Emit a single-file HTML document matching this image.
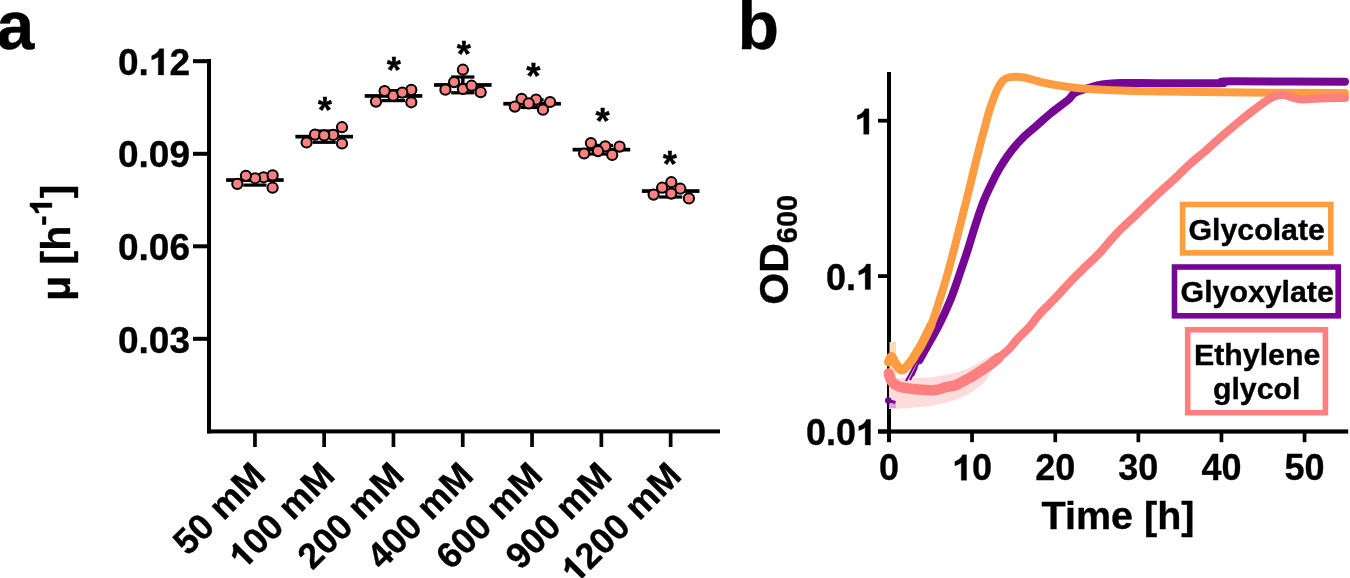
<!DOCTYPE html>
<html><head><meta charset="utf-8"><style>html,body{margin:0;padding:0;background:#fff;width:1350px;height:578px;overflow:hidden}</style></head>
<body><svg width="1350" height="578" viewBox="0 0 1350 578" style="display:block;will-change:transform">
<rect width="1350" height="578" fill="#fff"/>
<style>text{stroke:#000;stroke-width:0.35px} text .one{stroke:none}</style>
<style>.one{fill:none}</style>
<text x="-3.5" y="49" font-size="68" font-weight="bold" font-family='"Liberation Sans", sans-serif'>a</text>
<text x="737.5" y="49" font-size="68" font-weight="bold" font-family='"Liberation Sans", sans-serif'>b</text>
<rect x="207" y="59" width="4" height="374.4" fill="#000"/>
<rect x="207" y="429.4" width="513" height="4" fill="#000"/>
<rect x="193" y="59.2" width="16" height="4" fill="#000"/>
<text id="t0" x="190" y="74.9" font-size="37" font-weight="bold" text-anchor="end" font-family='"Liberation Sans", sans-serif'>0.<tspan class="one">1</tspan>2</text><g><path d="M0.256,0 H0.402 V0.708 H0.29 C0.262,0.63 0.19,0.56 0.078,0.52 V0.405 C0.15,0.425 0.21,0.455 0.256,0.489 Z" stroke="#000" stroke-width="0.35" vector-effect="non-scaling-stroke" transform="translate(148.84,74.90) scale(37,-37)"/></g>
<rect x="193" y="151.8" width="16" height="4" fill="#000"/>
<text id="t1" x="190" y="167.4" font-size="37" font-weight="bold" text-anchor="end" font-family='"Liberation Sans", sans-serif'>0.09</text>
<rect x="193" y="244.3" width="16" height="4" fill="#000"/>
<text id="t2" x="190" y="260.0" font-size="37" font-weight="bold" text-anchor="end" font-family='"Liberation Sans", sans-serif'>0.06</text>
<rect x="193" y="336.8" width="16" height="4" fill="#000"/>
<text id="t3" x="190" y="352.5" font-size="37" font-weight="bold" text-anchor="end" font-family='"Liberation Sans", sans-serif'>0.03</text>
<rect x="253.1" y="433" width="3.7" height="14" fill="#000"/>
<text id="t4" transform="translate(267.3,477.6) rotate(-45)" font-size="36" font-weight="bold" text-anchor="end" font-family='"Liberation Sans", sans-serif'>50 mM</text>
<rect x="322.3" y="433" width="3.7" height="14" fill="#000"/>
<text id="t5" transform="translate(336.6,477.6) rotate(-45)" font-size="36" font-weight="bold" text-anchor="end" font-family='"Liberation Sans", sans-serif'><tspan class="one">1</tspan>00 mM</text><g transform="translate(336.6,477.6) rotate(-45)"><path d="M0.256,0 H0.402 V0.708 H0.29 C0.262,0.63 0.19,0.56 0.078,0.52 V0.405 C0.15,0.425 0.21,0.455 0.256,0.489 Z" stroke="#000" stroke-width="0.35" vector-effect="non-scaling-stroke" transform="translate(-132.08,0.00) scale(36,-36)"/></g>
<rect x="391.6" y="433" width="3.7" height="14" fill="#000"/>
<text id="t6" transform="translate(405.9,477.6) rotate(-45)" font-size="36" font-weight="bold" text-anchor="end" font-family='"Liberation Sans", sans-serif'>200 mM</text>
<rect x="460.9" y="433" width="3.7" height="14" fill="#000"/>
<text id="t7" transform="translate(475.2,477.6) rotate(-45)" font-size="36" font-weight="bold" text-anchor="end" font-family='"Liberation Sans", sans-serif'>400 mM</text>
<rect x="530.2" y="433" width="3.7" height="14" fill="#000"/>
<text id="t8" transform="translate(544.5,477.6) rotate(-45)" font-size="36" font-weight="bold" text-anchor="end" font-family='"Liberation Sans", sans-serif'>600 mM</text>
<rect x="599.5" y="433" width="3.7" height="14" fill="#000"/>
<text id="t9" transform="translate(613.8,477.6) rotate(-45)" font-size="36" font-weight="bold" text-anchor="end" font-family='"Liberation Sans", sans-serif'>900 mM</text>
<rect x="668.8" y="433" width="3.7" height="14" fill="#000"/>
<text id="t10" transform="translate(683.1,477.6) rotate(-45)" font-size="36" font-weight="bold" text-anchor="end" font-family='"Liberation Sans", sans-serif'><tspan class="one">1</tspan>200 mM</text><g transform="translate(683.1,477.6) rotate(-45)"><path d="M0.256,0 H0.402 V0.708 H0.29 C0.262,0.63 0.19,0.56 0.078,0.52 V0.405 C0.15,0.425 0.21,0.455 0.256,0.489 Z" stroke="#000" stroke-width="0.35" vector-effect="non-scaling-stroke" transform="translate(-152.11,0.00) scale(36,-36)"/></g>
<text id="t11" transform="translate(70.1,301) rotate(-90)" font-size="41" font-weight="bold" font-family='"Liberation Sans", sans-serif'>μ [h<tspan font-size="31" dy="-18.2">-<tspan class="one">1</tspan></tspan><tspan dy="18.2">]</tspan></text><g transform="translate(70.1,301) rotate(-90)"><path d="M0.256,0 H0.402 V0.708 H0.29 C0.262,0.63 0.19,0.56 0.078,0.52 V0.405 C0.15,0.425 0.21,0.455 0.256,0.489 Z" stroke="#000" stroke-width="0.35" vector-effect="non-scaling-stroke" transform="translate(85.52,-18.20) scale(31,-31)"/></g>
<rect x="226.1" y="178.2" width="57.6" height="3.7" fill="#000"/>
<rect x="253.2" y="175.0" width="3.5" height="10.1" fill="#000"/>
<rect x="243.3" y="183.5" width="23.2" height="3.2" fill="#000"/>
<rect x="243.3" y="173.4" width="23.2" height="3.2" fill="#000"/>
<circle cx="263.6" cy="177.3" r="5.1" fill="#FA8181" stroke="#000" stroke-width="2"/>
<circle cx="255.1" cy="178.3" r="5.1" fill="#FA8181" stroke="#000" stroke-width="2"/>
<circle cx="245.9" cy="175.8" r="5.1" fill="#FA8181" stroke="#000" stroke-width="2"/>
<circle cx="272.6" cy="175.4" r="5.1" fill="#FA8181" stroke="#000" stroke-width="2"/>
<circle cx="237.3" cy="183.9" r="5.1" fill="#FA8181" stroke="#000" stroke-width="2"/>
<circle cx="272.6" cy="187.7" r="5.1" fill="#FA8181" stroke="#000" stroke-width="2"/>
<rect x="295.4" y="134.8" width="57.6" height="3.7" fill="#000"/>
<rect x="322.4" y="131.0" width="3.5" height="11.3" fill="#000"/>
<rect x="312.6" y="140.7" width="23.2" height="3.2" fill="#000"/>
<rect x="312.6" y="129.4" width="23.2" height="3.2" fill="#000"/>
<circle cx="315" cy="134.6" r="5.1" fill="#FA8181" stroke="#000" stroke-width="2"/>
<circle cx="333.2" cy="134.9" r="5.1" fill="#FA8181" stroke="#000" stroke-width="2"/>
<circle cx="324.2" cy="135.4" r="5.1" fill="#FA8181" stroke="#000" stroke-width="2"/>
<circle cx="306.6" cy="142.5" r="5.1" fill="#FA8181" stroke="#000" stroke-width="2"/>
<circle cx="342" cy="127.2" r="5.1" fill="#FA8181" stroke="#000" stroke-width="2"/>
<circle cx="342" cy="143.5" r="5.1" fill="#FA8181" stroke="#000" stroke-width="2"/>
<rect x="364.7" y="94.1" width="57.6" height="3.7" fill="#000"/>
<rect x="391.8" y="90.7" width="3.5" height="9.9" fill="#000"/>
<rect x="381.9" y="99.0" width="23.2" height="3.2" fill="#000"/>
<rect x="381.9" y="89.1" width="23.2" height="3.2" fill="#000"/>
<circle cx="393.2" cy="95.7" r="5.1" fill="#FA8181" stroke="#000" stroke-width="2"/>
<circle cx="411.3" cy="89.9" r="5.1" fill="#FA8181" stroke="#000" stroke-width="2"/>
<circle cx="384.6" cy="91" r="5.1" fill="#FA8181" stroke="#000" stroke-width="2"/>
<circle cx="402.3" cy="92.6" r="5.1" fill="#FA8181" stroke="#000" stroke-width="2"/>
<circle cx="376" cy="101.6" r="5.1" fill="#FA8181" stroke="#000" stroke-width="2"/>
<circle cx="411.3" cy="102.3" r="5.1" fill="#FA8181" stroke="#000" stroke-width="2"/>
<rect x="434.0" y="83.1" width="57.6" height="3.7" fill="#000"/>
<rect x="461.1" y="77.0" width="3.5" height="15.8" fill="#000"/>
<rect x="451.2" y="91.2" width="23.2" height="3.2" fill="#000"/>
<rect x="451.2" y="75.4" width="23.2" height="3.2" fill="#000"/>
<circle cx="462.9" cy="89" r="5.1" fill="#FA8181" stroke="#000" stroke-width="2"/>
<circle cx="471.6" cy="85.7" r="5.1" fill="#FA8181" stroke="#000" stroke-width="2"/>
<circle cx="480.7" cy="92.2" r="5.1" fill="#FA8181" stroke="#000" stroke-width="2"/>
<circle cx="445.4" cy="89.7" r="5.1" fill="#FA8181" stroke="#000" stroke-width="2"/>
<circle cx="454.1" cy="82.1" r="5.1" fill="#FA8181" stroke="#000" stroke-width="2"/>
<circle cx="462.9" cy="69.7" r="5.1" fill="#FA8181" stroke="#000" stroke-width="2"/>
<rect x="503.3" y="101.9" width="57.6" height="3.7" fill="#000"/>
<rect x="530.4" y="99.9" width="3.5" height="7.6" fill="#000"/>
<rect x="520.5" y="105.9" width="23.2" height="3.2" fill="#000"/>
<rect x="520.5" y="98.3" width="23.2" height="3.2" fill="#000"/>
<circle cx="521.6" cy="98.9" r="5.1" fill="#FA8181" stroke="#000" stroke-width="2"/>
<circle cx="536.1" cy="99.6" r="5.1" fill="#FA8181" stroke="#000" stroke-width="2"/>
<circle cx="528.7" cy="103.4" r="5.1" fill="#FA8181" stroke="#000" stroke-width="2"/>
<circle cx="514.8" cy="106.6" r="5.1" fill="#FA8181" stroke="#000" stroke-width="2"/>
<circle cx="543" cy="109.7" r="5.1" fill="#FA8181" stroke="#000" stroke-width="2"/>
<circle cx="550.1" cy="102" r="5.1" fill="#FA8181" stroke="#000" stroke-width="2"/>
<rect x="572.6" y="147.8" width="57.6" height="3.7" fill="#000"/>
<rect x="599.6" y="145.4" width="3.5" height="8.6" fill="#000"/>
<rect x="589.8" y="152.4" width="23.2" height="3.2" fill="#000"/>
<rect x="589.8" y="143.8" width="23.2" height="3.2" fill="#000"/>
<circle cx="605.3" cy="146.3" r="5.1" fill="#FA8181" stroke="#000" stroke-width="2"/>
<circle cx="590.9" cy="143.1" r="5.1" fill="#FA8181" stroke="#000" stroke-width="2"/>
<circle cx="598" cy="151.1" r="5.1" fill="#FA8181" stroke="#000" stroke-width="2"/>
<circle cx="584.1" cy="153.5" r="5.1" fill="#FA8181" stroke="#000" stroke-width="2"/>
<circle cx="612.2" cy="154.9" r="5.1" fill="#FA8181" stroke="#000" stroke-width="2"/>
<circle cx="619.6" cy="146.6" r="5.1" fill="#FA8181" stroke="#000" stroke-width="2"/>
<rect x="641.9" y="189.2" width="57.6" height="3.7" fill="#000"/>
<rect x="669.0" y="185.0" width="3.5" height="12.0" fill="#000"/>
<rect x="659.1" y="195.4" width="23.2" height="3.2" fill="#000"/>
<rect x="659.1" y="183.4" width="23.2" height="3.2" fill="#000"/>
<circle cx="680.3" cy="188.7" r="5.1" fill="#FA8181" stroke="#000" stroke-width="2"/>
<circle cx="662.1" cy="187.7" r="5.1" fill="#FA8181" stroke="#000" stroke-width="2"/>
<circle cx="671.3" cy="182.2" r="5.1" fill="#FA8181" stroke="#000" stroke-width="2"/>
<circle cx="671.3" cy="193.6" r="5.1" fill="#FA8181" stroke="#000" stroke-width="2"/>
<circle cx="653.6" cy="194.6" r="5.1" fill="#FA8181" stroke="#000" stroke-width="2"/>
<circle cx="688.9" cy="198.4" r="5.1" fill="#FA8181" stroke="#000" stroke-width="2"/>
<text x="324.8" y="123.4" font-size="36.5" font-weight="bold" text-anchor="middle" font-family='"Liberation Sans", sans-serif'>*</text>
<text x="393.8" y="83.3" font-size="36.5" font-weight="bold" text-anchor="middle" font-family='"Liberation Sans", sans-serif'>*</text>
<text x="463.8" y="66.5" font-size="36.5" font-weight="bold" text-anchor="middle" font-family='"Liberation Sans", sans-serif'>*</text>
<text x="533.4" y="88.5" font-size="36.5" font-weight="bold" text-anchor="middle" font-family='"Liberation Sans", sans-serif'>*</text>
<text x="602.5" y="134.0" font-size="36.5" font-weight="bold" text-anchor="middle" font-family='"Liberation Sans", sans-serif'>*</text>
<text x="669.9" y="176.7" font-size="36.5" font-weight="bold" text-anchor="middle" font-family='"Liberation Sans", sans-serif'>*</text>
<rect x="887" y="72" width="4" height="370.2" fill="#000"/>
<rect x="878.2" y="429.4" width="470" height="4.2" fill="#000"/>
<rect x="878" y="118.8" width="11" height="3.8" fill="#000"/>
<text id="t12" x="874.5" y="134.2" font-size="36" font-weight="bold" text-anchor="end" font-family='"Liberation Sans", sans-serif'><tspan class="one">1</tspan></text><g><path d="M0.256,0 H0.402 V0.708 H0.29 C0.262,0.63 0.19,0.56 0.078,0.52 V0.405 C0.15,0.425 0.21,0.455 0.256,0.489 Z" stroke="#000" stroke-width="0.35" vector-effect="non-scaling-stroke" transform="translate(854.47,134.20) scale(36,-36)"/></g>
<rect x="878" y="274.2" width="11" height="3.8" fill="#000"/>
<text id="t13" x="876" y="289.6" font-size="36" font-weight="bold" text-anchor="end" font-family='"Liberation Sans", sans-serif'>0.<tspan class="one">1</tspan></text><g><path d="M0.256,0 H0.402 V0.708 H0.29 C0.262,0.63 0.19,0.56 0.078,0.52 V0.405 C0.15,0.425 0.21,0.455 0.256,0.489 Z" stroke="#000" stroke-width="0.35" vector-effect="non-scaling-stroke" transform="translate(855.97,289.60) scale(36,-36)"/></g>
<rect x="878" y="429.6" width="11" height="3.8" fill="#000"/>
<text id="t14" x="876" y="445.0" font-size="36" font-weight="bold" text-anchor="end" font-family='"Liberation Sans", sans-serif'>0.0<tspan class="one">1</tspan></text><g><path d="M0.256,0 H0.402 V0.708 H0.29 C0.262,0.63 0.19,0.56 0.078,0.52 V0.405 C0.15,0.425 0.21,0.455 0.256,0.489 Z" stroke="#000" stroke-width="0.35" vector-effect="non-scaling-stroke" transform="translate(855.97,445.00) scale(36,-36)"/></g>
<text id="t15" x="889.0" y="480.3" font-size="36" font-weight="bold" text-anchor="middle" font-family='"Liberation Sans", sans-serif'>0</text>
<rect x="970.2" y="433" width="3.7" height="9.2" fill="#000"/>
<text id="t16" x="972.1" y="480.3" font-size="36" font-weight="bold" text-anchor="middle" font-family='"Liberation Sans", sans-serif'><tspan class="one">1</tspan>0</text><g><path d="M0.256,0 H0.402 V0.708 H0.29 C0.262,0.63 0.19,0.56 0.078,0.52 V0.405 C0.15,0.425 0.21,0.455 0.256,0.489 Z" stroke="#000" stroke-width="0.35" vector-effect="non-scaling-stroke" transform="translate(952.07,480.30) scale(36,-36)"/></g>
<rect x="1053.4" y="433" width="3.7" height="9.2" fill="#000"/>
<text id="t17" x="1055.2" y="480.3" font-size="36" font-weight="bold" text-anchor="middle" font-family='"Liberation Sans", sans-serif'>20</text>
<rect x="1136.5" y="433" width="3.7" height="9.2" fill="#000"/>
<text id="t18" x="1138.3" y="480.3" font-size="36" font-weight="bold" text-anchor="middle" font-family='"Liberation Sans", sans-serif'>30</text>
<rect x="1219.6" y="433" width="3.7" height="9.2" fill="#000"/>
<text id="t19" x="1221.4" y="480.3" font-size="36" font-weight="bold" text-anchor="middle" font-family='"Liberation Sans", sans-serif'>40</text>
<rect x="1302.7" y="433" width="3.7" height="9.2" fill="#000"/>
<text id="t20" x="1304.5" y="480.3" font-size="36" font-weight="bold" text-anchor="middle" font-family='"Liberation Sans", sans-serif'>50</text>
<text x="1118" y="529.3" font-size="39.5" font-weight="bold" text-anchor="middle" font-family='"Liberation Sans", sans-serif'>Time [h]</text>
<text transform="translate(788.4,304.7) rotate(-90)" font-size="41" font-weight="bold" font-family='"Liberation Sans", sans-serif'>OD<tspan font-size="29" dy="8.3">600</tspan></text>
<polygon points="889,366 893,377 900,378 930,377.5 945,375 958,372 967,369 975,365 985,359 992,355 992,370 985,382 975,390 967,394.8 958,399 945,403 930,406 910,408 893,409 889,409" fill="#FFDCDC"/>
<rect x="889.5" y="342" width="6.5" height="36" fill="#FDDCB8"/>
<rect x="889" y="403" width="7" height="5" fill="#D9A2E6"/>
<path d="M919.5,360.0 C921.1,357.2 925.8,348.8 929.0,343.0 C932.2,337.2 935.4,332.2 939.0,325.0 C942.6,317.8 947.0,308.3 950.4,300.0 C953.8,291.7 956.5,283.2 959.3,275.0 C962.1,266.8 964.7,259.3 967.4,251.0 C970.1,242.7 972.6,233.5 975.4,225.0 C978.2,216.5 980.7,208.3 984.1,200.0 C987.5,191.7 992.7,181.3 995.9,175.0 C999.1,168.7 1000.8,166.2 1003.5,162.0 C1006.2,157.8 1008.8,154.0 1012.0,150.0 C1015.2,146.0 1018.4,142.2 1022.6,138.0 C1026.8,133.8 1032.7,129.2 1037.4,125.0 C1042.2,120.8 1046.0,117.2 1051.1,113.0 C1056.2,108.8 1064.0,103.4 1068.0,100.0 C1072.0,96.6 1071.3,94.9 1075.0,92.8 C1078.7,90.7 1085.5,88.9 1090.0,87.5 C1094.5,86.1 1097.2,85.2 1102.2,84.5 C1107.2,83.8 1110.4,83.2 1120.0,83.0 C1129.6,82.8 1144.9,83.2 1160.0,83.2 C1175.1,83.2 1199.8,83.3 1210.5,83.3 C1221.2,83.3 1220.6,83.3 1224.0,83.0 C1227.4,82.7 1210.8,81.5 1231.0,81.3 C1251.2,81.1 1326.0,81.7 1345.0,81.8" fill="none" stroke="#760794" stroke-width="8" stroke-linecap="round" stroke-linejoin="round"/>
<path d="M888.3,400.5 L895.5,402.5" fill="none" stroke="#760794" stroke-width="3"/>
<path d="M906,381 L919,357 M910,380 L923,354 M913,376 L917,367" fill="none" stroke="#760794" stroke-width="2.2"/>
<circle cx="888.3" cy="400.5" r="3.3" fill="#760794"/>
<path d="M888.5,362.0 C889.0,361.1 890.4,356.4 891.5,356.5 C892.6,356.6 893.6,360.4 895.0,362.5 C896.4,364.6 898.6,368.1 900.0,369.3 C901.4,370.5 902.2,370.2 903.5,369.5 C904.8,368.8 906.6,366.6 908.0,365.0 C909.4,363.4 910.7,361.8 912.0,360.0 C913.3,358.2 914.2,356.5 915.7,354.0 C917.2,351.5 918.6,349.8 921.2,345.0 C923.8,340.2 929.5,328.3 931.1,325.0" fill="none" stroke="#FC9D41" stroke-width="9" stroke-linecap="round" stroke-linejoin="round"/>
<path d="M888.5,362.0 C889.0,361.1 890.4,356.4 891.5,356.5 C892.6,356.6 893.6,360.4 895.0,362.5 C896.4,364.6 898.6,368.1 900.0,369.3 C901.4,370.5 902.2,370.2 903.5,369.5 C904.8,368.8 906.6,366.6 908.0,365.0 C909.4,363.4 910.7,361.8 912.0,360.0 C913.3,358.2 914.2,356.5 915.7,354.0 C917.2,351.5 918.6,349.8 921.2,345.0 C923.8,340.2 928.0,332.5 931.1,325.0 C934.2,317.5 936.9,308.3 939.6,300.0 C942.3,291.7 944.9,283.2 947.2,275.0 C949.5,266.8 951.4,259.3 953.6,251.0 C955.8,242.7 958.1,233.5 960.2,225.0 C962.4,216.5 964.4,208.3 966.5,200.0 C968.6,191.7 970.6,183.3 972.6,175.0 C974.6,166.7 976.7,158.3 978.8,150.0 C980.9,141.7 983.6,131.7 985.4,125.0 C987.2,118.3 988.2,114.2 989.5,110.0 C990.8,105.8 992.0,102.8 993.0,100.0 C994.0,97.2 994.6,95.7 995.5,93.5 C996.4,91.3 997.2,89.3 998.5,87.1 C999.8,84.9 1001.3,82.1 1003.0,80.5 C1004.7,78.9 1006.2,78.1 1008.5,77.5 C1010.8,76.9 1014.2,76.8 1016.8,76.8 C1019.3,76.8 1021.0,77.0 1023.8,77.5 C1026.6,78.0 1029.9,79.0 1033.4,79.9 C1036.9,80.8 1039.5,81.9 1045.0,83.0 C1050.5,84.1 1058.7,85.7 1066.7,86.7 C1074.8,87.8 1084.4,88.7 1093.3,89.3 C1102.2,89.9 1108.9,90.2 1120.0,90.5 C1131.1,90.8 1138.8,91.1 1160.0,91.4 C1181.2,91.7 1216.1,92.2 1246.9,92.5 C1277.7,92.8 1328.7,92.9 1345.0,93.0" fill="none" stroke="#FC9D41" stroke-width="8" stroke-linecap="round" stroke-linejoin="round"/>
<path d="M888.8,373.5 C889.3,374.8 889.9,379.3 891.7,381.5 C893.5,383.7 895.0,385.4 899.5,386.7 C904.0,388.0 912.9,388.9 918.9,389.5 C924.9,390.1 930.9,390.4 935.4,390.0 C939.9,389.6 942.3,388.0 945.8,387.2 C949.3,386.4 952.7,386.3 956.2,385.0 C959.7,383.7 963.7,381.0 966.6,379.5 C969.5,378.0 971.3,377.2 973.5,375.8 C975.7,374.4 977.2,373.2 980.0,371.4 C982.8,369.6 987.0,367.0 990.0,364.8 C993.0,362.6 996.9,359.1 998.3,358.0" fill="none" stroke="#FC8080" stroke-width="10.5" stroke-linecap="round" stroke-linejoin="round"/>
<path d="M888.8,373.5 C889.3,374.8 889.9,379.3 891.7,381.5 C893.5,383.7 895.0,385.4 899.5,386.7 C904.0,388.0 912.9,388.9 918.9,389.5 C924.9,390.1 930.9,390.4 935.4,390.0 C939.9,389.6 942.3,388.0 945.8,387.2 C949.3,386.4 952.7,386.3 956.2,385.0 C959.7,383.7 963.7,381.0 966.6,379.5 C969.5,378.0 971.3,377.2 973.5,375.8 C975.7,374.4 977.2,373.2 980.0,371.4 C982.8,369.6 987.0,367.0 990.0,364.8 C993.0,362.6 995.2,360.5 998.3,358.0 C1001.4,355.5 1005.0,353.0 1008.4,349.6 C1011.8,346.2 1015.2,341.4 1018.7,337.7 C1022.2,334.0 1025.7,331.1 1029.1,327.3 C1032.5,323.5 1035.5,318.8 1039.0,314.8 C1042.5,310.8 1046.2,307.3 1050.1,303.3 C1054.0,299.3 1058.2,294.9 1062.2,290.6 C1066.2,286.3 1070.3,281.7 1074.3,277.6 C1078.3,273.5 1082.4,269.7 1086.4,265.8 C1090.4,261.9 1093.4,259.6 1098.5,254.2 C1103.6,248.8 1110.8,239.6 1117.0,233.1 C1123.2,226.6 1129.7,221.1 1136.0,215.0 C1142.3,208.9 1148.6,202.6 1155.0,196.6 C1161.4,190.6 1168.5,184.4 1174.3,179.0 C1180.1,173.6 1184.8,168.7 1190.0,164.0 C1195.2,159.3 1200.4,155.3 1205.6,150.8 C1210.8,146.3 1215.9,141.3 1221.1,136.8 C1226.3,132.3 1231.5,127.9 1236.7,123.6 C1241.9,119.3 1247.6,114.7 1252.3,111.1 C1257.0,107.5 1261.1,104.3 1264.7,101.8 C1268.3,99.3 1270.9,97.5 1274.0,96.3 C1277.1,95.1 1280.5,94.7 1283.4,94.8 C1286.3,94.9 1288.1,96.3 1291.2,97.1 C1294.3,97.8 1297.3,99.1 1302.1,99.3 C1306.9,99.5 1312.8,98.5 1320.0,98.3 C1327.2,98.0 1340.8,97.9 1345.0,97.8" fill="none" stroke="#FC8080" stroke-width="8.3" stroke-linecap="round" stroke-linejoin="round"/>
<rect x="1182.6" y="204.5" width="148.2" height="48.4" fill="#fff" stroke="#FC9D41" stroke-width="5.6"/>
<text x="1256.7" y="239.5" font-size="30.3" font-weight="bold" text-anchor="middle" font-family='"Liberation Sans", sans-serif'>Glycolate</text>
<rect x="1174.5" y="267.0" width="163.7" height="48.8" fill="#fff" stroke="#760794" stroke-width="5.6"/>
<text x="1257.2" y="302.4" font-size="30.3" font-weight="bold" text-anchor="middle" font-family='"Liberation Sans", sans-serif'>Glyoxylate</text>
<rect x="1187.7" y="329.8" width="137.7" height="82.9" fill="#fff" stroke="#FC8080" stroke-width="5.6"/>
<text x="1257.2" y="365" font-size="30.3" font-weight="bold" text-anchor="middle" font-family='"Liberation Sans", sans-serif'>Ethylene</text>
<text x="1256.7" y="399.3" font-size="30.3" font-weight="bold" text-anchor="middle" font-family='"Liberation Sans", sans-serif'>glycol</text>
</svg></body></html>
